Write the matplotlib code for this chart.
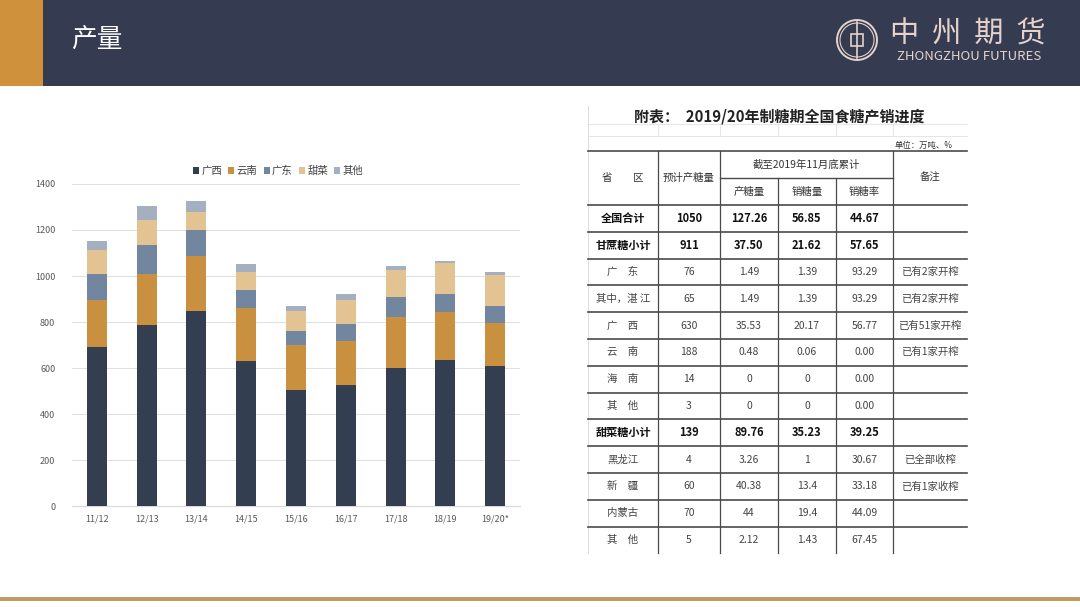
import numpy as np
import matplotlib.pyplot as plt
from matplotlib.patches import Rectangle, Circle

plt.rcParams['font.family'] = ['Noto Sans CJK SC', 'DejaVu Sans']

# ---- chart data (万吨)
seasons = ['11/12', '12/13', '13/14', '14/15', '15/16', '16/17', '17/18', '18/19', '19/20*']
guangxi = [690, 788, 850, 631, 505, 527, 599, 633, 607]
yunnan = [205, 222, 236, 230, 193, 189, 222, 209, 188]
guangdong = [113, 123, 116, 79, 64, 76, 86, 80, 73]
beet = [103, 109, 75, 76, 84, 105, 118, 135, 138]
others = [41, 61, 51, 38, 25, 26, 17, 7, 10]
series_names = ['广西', '云南', '广东', '甜菜', '其他']
series_colors = ['#333f50', '#c9913f', '#7286a0', '#e4c393', '#a4b0c0']

# ---- table data
tbl_title = '附表：  2019/20年制糖期全国食糖产销进度'
tbl_unit = '单位：万吨、%'
row_names = ['全国合计', '甘蔗糖小计', '广　东', '其中，湛 江', '广　西', '云　南', '海　南',
             '其　他', '甜菜糖小计', '黑龙江', '新　疆', '内蒙古', '其　他']
forecast = ['1050', '911', '76', '65', '630', '188', '14', '3', '139', '4', '60', '70', '5']
produced = ['127.26', '37.50', '1.49', '1.49', '35.53', '0.48', '0', '0', '89.76', '3.26', '40.38', '44', '2.12']
sold = ['56.85', '21.62', '1.39', '1.39', '20.17', '0.06', '0', '0', '35.23', '1', '13.4', '19.4', '1.43']
rate = ['44.67', '57.65', '93.29', '93.29', '56.77', '0.00', '0.00', '0.00', '39.25', '30.67', '33.18', '44.09', '67.45']
notes = ['', '', '已有2家开榨', '已有2家开榨', '已有51家开榨', '已有1家开榨', '', '', '',
         '已全部收榨', '已有1家收榨', '', '']
bold_rows = [0, 1, 8]

W, H = 1080, 607
fig = plt.figure(figsize=(10.8, 6.07), dpi=100)

# background / decorations in pixel coordinates
bg = fig.add_axes([0, 0, 1, 1])
bg.set_xlim(0, W); bg.set_ylim(H, 0); bg.axis('off')
bg.add_patch(Rectangle((0, 0), W, 86, color='#353c52', lw=0))
bg.add_patch(Rectangle((0, 0), 43, 86, color='#d0913d', lw=0))
bg.add_patch(Rectangle((0, 597), W, 3.5, color='#c39a60', lw=0))
bg.text(71, 41, '产量', color='white', fontsize=18.5, va='center', ha='left')

# logo
logo_c = '#e6d2c8'
bg.add_patch(Circle((857, 40), 20, fill=False, ec=logo_c, lw=1.4))
bg.add_patch(Circle((857, 40), 17, fill=False, ec=logo_c, lw=0.8))
bg.add_patch(Rectangle((851, 34), 12, 12, fill=False, ec=logo_c, lw=1.2))
bg.plot([857, 857], [22, 58], color=logo_c, lw=1.2)
bg.text(968, 35, '中  州  期  货', color=logo_c, fontsize=21, ha='center', va='center')
bg.text(969, 57, 'ZHONGZHOU FUTURES', color=logo_c, fontsize=9.5, ha='center', va='center')

# ---- table
col_x = [588, 658, 720, 778, 836, 893, 967]
hdr_top, hdr_mid, hdr_bot = 151, 178, 205
row_h = 26.8
line_c = '#4a4a4a'
nrows = len(row_names)

# faint excel gridlines above the table
for y in [124, 136]:
    bg.plot([col_x[0], col_x[-1]], [y, y], color='#e2e2e2', lw=0.6)
for x in col_x[1:-1]:
    bg.plot([x, x], [124, 136], color='#e2e2e2', lw=0.6)
bg.plot([col_x[0], col_x[0]], [106, hdr_bot + nrows * row_h], color='#d8d8d8', lw=0.6)

bg.text(779, 116, tbl_title, fontsize=10.8, fontweight='bold', ha='center', va='center', color='#222222')
bg.text(953, 145, tbl_unit, fontsize=6, ha='right', va='center', color='#333333')

bg.plot([col_x[0], col_x[-1]], [hdr_top, hdr_top], color=line_c, lw=1.2)
bg.plot([col_x[2], col_x[5]], [hdr_mid, hdr_mid], color=line_c, lw=1.0)
for i in range(nrows):
    y = hdr_bot + i * row_h
    bg.plot([col_x[0], col_x[-1]], [y, y], color=line_c, lw=1.2)
bottom = hdr_bot + nrows * row_h
for j in [1, 2, 5]:
    bg.plot([col_x[j], col_x[j]], [hdr_top, bottom], color=line_c, lw=0.9)
for j in [3, 4]:
    bg.plot([col_x[j], col_x[j]], [hdr_mid, bottom], color=line_c, lw=0.9)

centers = [(col_x[k] + col_x[k + 1]) / 2 for k in range(6)]
hc = '#333333'
hy = (hdr_top + hdr_bot) / 2
bg.text(centers[0], hy, '省　　区', fontsize=7.5, ha='center', va='center', color=hc)
bg.text(centers[1], hy, '预计产糖量', fontsize=7.5, ha='center', va='center', color=hc)
bg.text((col_x[2] + col_x[5]) / 2, (hdr_top + hdr_mid) / 2, '截至2019年11月底累计', fontsize=7.5,
        ha='center', va='center', color=hc)
for k, lab in zip([2, 3, 4], ['产糖量', '销糖量', '销糖率']):
    bg.text(centers[k], (hdr_mid + hdr_bot) / 2, lab, fontsize=7.5, ha='center', va='center', color=hc)
bg.text(centers[5], hy, '备注', fontsize=7.5, ha='center', va='center', color=hc)

for i in range(nrows):
    y = hdr_bot + (i + 0.5) * row_h
    b = i in bold_rows
    cells = [row_names[i], forecast[i], produced[i], sold[i], rate[i], notes[i]]
    for k, s in enumerate(cells):
        bg.text(centers[k], y, s, fontsize=8 if b else 7.5, fontweight='bold' if b else 'normal',
                ha='center', va='center', color='#111111' if b else '#444444')

# ---- stacked bar chart
ax = fig.add_axes([72 / W, (H - 506) / H, 448 / W, 322 / H])
x = np.arange(len(seasons))
base = np.zeros(len(seasons))
for vals, name, col in zip([guangxi, yunnan, guangdong, beet, others], series_names, series_colors):
    ax.bar(x, vals, 0.4, bottom=base, color=col, label=name, zorder=3)
    base += np.array(vals)

ax.set_xlim(-0.5, len(seasons) - 0.5)
ax.set_ylim(0, 1400)
ax.set_yticks(range(0, 1401, 200))
ax.set_xticks(x)
ax.set_xticklabels(seasons)
ax.tick_params(axis='both', length=0, labelsize=6.5, labelcolor='#595959')
ax.tick_params(axis='x', pad=6)
ax.tick_params(axis='y', pad=12)
ax.grid(axis='y', color='#e0e0e0', lw=0.7, zorder=0)
for s in ['top', 'right', 'left']:
    ax.spines[s].set_visible(False)
ax.spines['bottom'].set_color('#d9d9d9')
ax.legend(loc='center', bbox_to_anchor=(0.46, 1.04), ncol=5, frameon=False, fontsize=7.5,
          handlelength=0.6, handleheight=0.6, handletextpad=0.2, columnspacing=0.6, labelcolor='#404040')

fig.savefig('out.png', dpi=100)
